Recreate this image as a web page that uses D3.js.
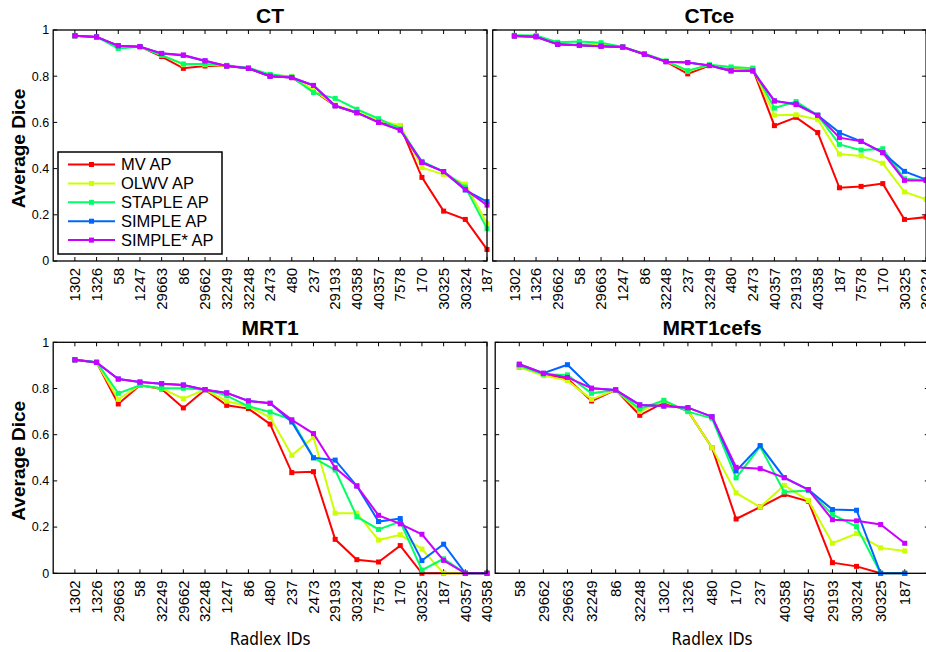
<!DOCTYPE html>
<html lang="en">
<head>
<meta charset="UTF-8">
<title>Average Dice per Radlex ID</title>
<script src="https://d3js.org/d3.v7.min.js"></script>
<style>
  body { margin: 0; background: #fff; }
  text { font-family: "Liberation Sans", Arial, sans-serif; }
</style>
</head>
<body>
<svg width="926" height="652"></svg>
<script>
// series names and colours (MATLAB hsv(5))
var seriesNames = ["MV AP", "OLWV AP", "STAPLE AP", "SIMPLE AP", "SIMPLE* AP"];
var seriesColors = ["#ff0000", "#ccff00", "#00ff66", "#0066ff", "#cc00ff"];
var yTicks = [0, 0.2, 0.4, 0.6, 0.8, 1];

// CT
var ctIds = ["1302","1326","58","1247","29663","86","29662","32249","32248","2473","480","237","29193","40358","40357","7578","170","30325","30324","187"];
var ctMV     = [.975,.970,.930,.928,.885,.834,.844,.844,.834,.800,.794,.737,.672,.642,.603,.584,.362,.216,.180,.050];
var ctOLWV   = [.975,.970,.930,.928,.892,.850,.850,.844,.836,.805,.800,.740,.675,.645,.608,.587,.404,.375,.333,.163];
var ctSTAPLE = [.975,.970,.920,.928,.890,.853,.853,.847,.836,.808,.797,.729,.704,.657,.616,.572,.431,.387,.320,.140];
var ctSIMPLE = [.975,.970,.932,.928,.898,.890,.866,.844,.834,.800,.794,.760,.672,.642,.600,.567,.428,.387,.307,.257];
var ctSIMPLEs= [.975,.970,.932,.928,.899,.892,.867,.844,.834,.800,.794,.760,.672,.642,.600,.567,.426,.387,.310,.242];

// CTce
var ctceIds = ["1302","1326","29662","58","29663","1247","86","32248","237","32249","480","2473","40357","29193","40358","187","7578","170","30325","30324"];
var ctceMV     = [.974,.971,.938,.934,.930,.926,.895,.863,.810,.846,.834,.832,.586,.622,.556,.317,.323,.335,.180,.190];
var ctceOLWV   = [.975,.972,.942,.940,.938,.926,.897,.865,.822,.848,.838,.834,.631,.633,.612,.463,.455,.423,.299,.267];
var ctceSTAPLE = [.977,.976,.947,.950,.945,.927,.897,.866,.824,.850,.840,.835,.662,.690,.631,.505,.480,.486,.356,.349];
var ctceSIMPLE = [.974,.971,.938,.934,.930,.926,.895,.863,.859,.846,.823,.823,.693,.680,.631,.556,.518,.469,.388,.352];
var ctceSIMPLEs= [.974,.971,.938,.934,.930,.926,.895,.863,.859,.846,.823,.823,.693,.677,.631,.534,.518,.469,.349,.349];

// MRT1
var mrIds = ["1302","1326","29663","58","32249","29662","32248","1247","86","480","237","2473","29193","30324","7578","170","30325","187","40357","40358"];
var mrMV     = [.924,.913,.733,.814,.798,.716,.795,.727,.713,.646,.436,.440,.147,.059,.049,.120,0,0,0,0];
var mrOLWV   = [.924,.913,.753,.814,.800,.756,.795,.745,.722,.675,.511,.589,.260,.260,.144,.167,.105,0,0,0];
var mrSTAPLE = [.924,.915,.779,.814,.801,.801,.795,.769,.723,.698,.664,.500,.447,.245,.190,.224,.014,.063,0,0];
var mrSIMPLE = [.924,.913,.841,.828,.821,.815,.795,.781,.746,.736,.655,.500,.490,.378,.224,.237,.055,.126,0,0];
var mrSIMPLEs= [.924,.913,.841,.828,.821,.815,.795,.781,.746,.736,.664,.605,.457,.378,.251,.214,.169,.056,0,0];

// MRT1cefs
var mrcIds = ["58","29662","29663","32249","86","32248","1302","1326","480","170","237","40358","40357","29193","30324","30325","187"];
var mrcMV     = [.893,.861,.843,.746,.794,.684,.739,.703,.544,.235,.287,.341,.312,.046,.030,0,0];
var mrcOLWV   = [.893,.856,.834,.753,.794,.701,.745,.703,.544,.348,.287,.381,.315,.130,.172,.110,.097];
var mrcSTAPLE = [.898,.862,.859,.779,.794,.711,.749,.700,.671,.413,.548,.352,.358,.255,.202,0,0];
var mrcSIMPLE = [.905,.866,.903,.801,.794,.729,.724,.717,.678,.443,.553,.414,.362,.276,.273,0,0];
var mrcSIMPLEs= [.905,.866,.848,.801,.794,.729,.724,.717,.678,.459,.453,.414,.362,.232,.227,.211,.130];

// panel boxes (pixels) + data; xmax is the x limit in category units
var panels = [
  {title: "CT", ids: ctIds, series: [ctMV, ctOLWV, ctSTAPLE, ctSIMPLE, ctSIMPLEs], xmax: 20,
   x0: 53.2, x1: 487, y0: 261, y1: 30, left: true, legend: true, xlabel: false},
  {title: "CTce", ids: ctceIds, series: [ctceMV, ctceOLWV, ctceSTAPLE, ctceSIMPLE, ctceSIMPLEs], xmax: 20,
   x0: 492.7, x1: 926.1, y0: 261, y1: 30, left: false, legend: false, xlabel: false},
  {title: "MRT1", ids: mrIds, series: [mrMV, mrOLWV, mrSTAPLE, mrSIMPLE, mrSIMPLEs], xmax: 20,
   x0: 53.2, x1: 487, y0: 573.3, y1: 342.3, left: true, legend: false, xlabel: true},
  {title: "MRT1cefs", ids: mrcIds, series: [mrcMV, mrcOLWV, mrcSTAPLE, mrcSIMPLE, mrcSIMPLEs], xmax: 18,
   x0: 495.2, x1: 928.8, y0: 573.3, y1: 342.3, left: false, legend: false, xlabel: true}
];

var svg = d3.select("svg");
var tickLen = 4;

panels.forEach(function(p) {
  var n = p.ids.length;
  var x = d3.scaleLinear().domain([0, p.xmax]).range([p.x0, p.x1]);
  var y = d3.scaleLinear().domain([0, 1]).range([p.y0, p.y1]);
  var g = svg.append("g");

  // x ticks (inside, bottom and top)
  var xt = d3.range(1, n + 1);
  g.selectAll(".xtb").data(xt).enter().append("line")
    .attr("x1", d => x(d)).attr("x2", d => x(d))
    .attr("y1", p.y0).attr("y2", p.y0 - tickLen)
    .attr("stroke", "#000");
  g.selectAll(".xtt").data(xt).enter().append("line")
    .attr("x1", d => x(d)).attr("x2", d => x(d))
    .attr("y1", p.y1).attr("y2", p.y1 + tickLen)
    .attr("stroke", "#000");
  // y ticks (inside, left and right)
  g.selectAll(".ytl").data(yTicks).enter().append("line")
    .attr("x1", p.x0).attr("x2", p.x0 + tickLen)
    .attr("y1", d => y(d)).attr("y2", d => y(d))
    .attr("stroke", "#000");
  g.selectAll(".ytr").data(yTicks).enter().append("line")
    .attr("x1", p.x1).attr("x2", p.x1 - tickLen)
    .attr("y1", d => y(d)).attr("y2", d => y(d))
    .attr("stroke", "#000");

  // x tick labels, rotated
  g.selectAll(".xl").data(p.ids).enter().append("text")
    .attr("transform", (d, i) => `translate(${x(i + 1)},${p.y0 + 7}) rotate(-90)`)
    .attr("text-anchor", "end")
    .attr("dy", "0.35em")
    .attr("font-size", "15px")
    .text(d => d);

  if (p.left) {
    g.selectAll(".yl").data(yTicks).enter().append("text")
      .attr("x", p.x0 - 4).attr("y", d => y(d))
      .attr("dy", "0.35em")
      .attr("text-anchor", "end")
      .attr("font-size", "12.5px")
      .text(d => d);
    g.append("text")
      .attr("transform", `translate(25,${(p.y0 + p.y1) / 2 + 3}) rotate(-90)`)
      .attr("text-anchor", "middle")
      .attr("font-size", "19px")
      .attr("font-weight", "bold")
      .text("Average Dice");
  }

  // title
  g.append("text")
    .attr("x", (p.x0 + p.x1) / 2).attr("y", p.y1 - 7)
    .attr("text-anchor", "middle")
    .attr("font-size", "21px")
    .attr("font-weight", "bold")
    .text(p.title);

  if (p.xlabel) {
    g.append("text")
      .attr("x", (p.x0 + p.x1) / 2).attr("y", 645)
      .attr("text-anchor", "middle")
      .attr("font-size", "17px")
      .style("font-family", "'DejaVu Sans Condensed', 'DejaVu Sans', sans-serif")
      .text("Radlex IDs");
  }

  // lines + square markers
  var line = d3.line().x((d, i) => x(i + 1)).y(d => y(d));
  p.series.forEach(function(s, k) {
    g.append("path").datum(s)
      .attr("d", line)
      .attr("fill", "none")
      .attr("stroke", seriesColors[k])
      .attr("stroke-width", 2);
    g.selectAll(".m" + k).data(s).enter().append("rect")
      .attr("x", (d, i) => x(i + 1) - 2.5).attr("y", d => y(d) - 2.5)
      .attr("width", 5).attr("height", 5)
      .attr("fill", seriesColors[k]);
  });

  // axis box
  g.append("rect")
    .attr("x", p.x0).attr("y", p.y1)
    .attr("width", p.x1 - p.x0).attr("height", p.y0 - p.y1)
    .attr("fill", "none").attr("stroke", "#000").attr("stroke-width", 1.3);

  if (p.legend) {
    var lg = svg.append("g");
    lg.append("rect")
      .attr("x", 58).attr("y", 152).attr("width", 164).attr("height", 102)
      .attr("fill", "#fff").attr("stroke", "#000").attr("stroke-width", 1.5);
    seriesNames.forEach(function(name, k) {
      var ly = 164.5 + k * 18.9;
      lg.append("line").attr("x1", 68).attr("x2", 115).attr("y1", ly).attr("y2", ly)
        .attr("stroke", seriesColors[k]).attr("stroke-width", 2);
      lg.append("rect").attr("x", 89).attr("y", ly - 2.5).attr("width", 5).attr("height", 5)
        .attr("fill", seriesColors[k]);
      lg.append("text").attr("x", 121).attr("y", ly).attr("dy", "0.36em")
        .attr("font-size", "16.5px").text(name);
    });
  }
});
</script>
</body>
</html>
